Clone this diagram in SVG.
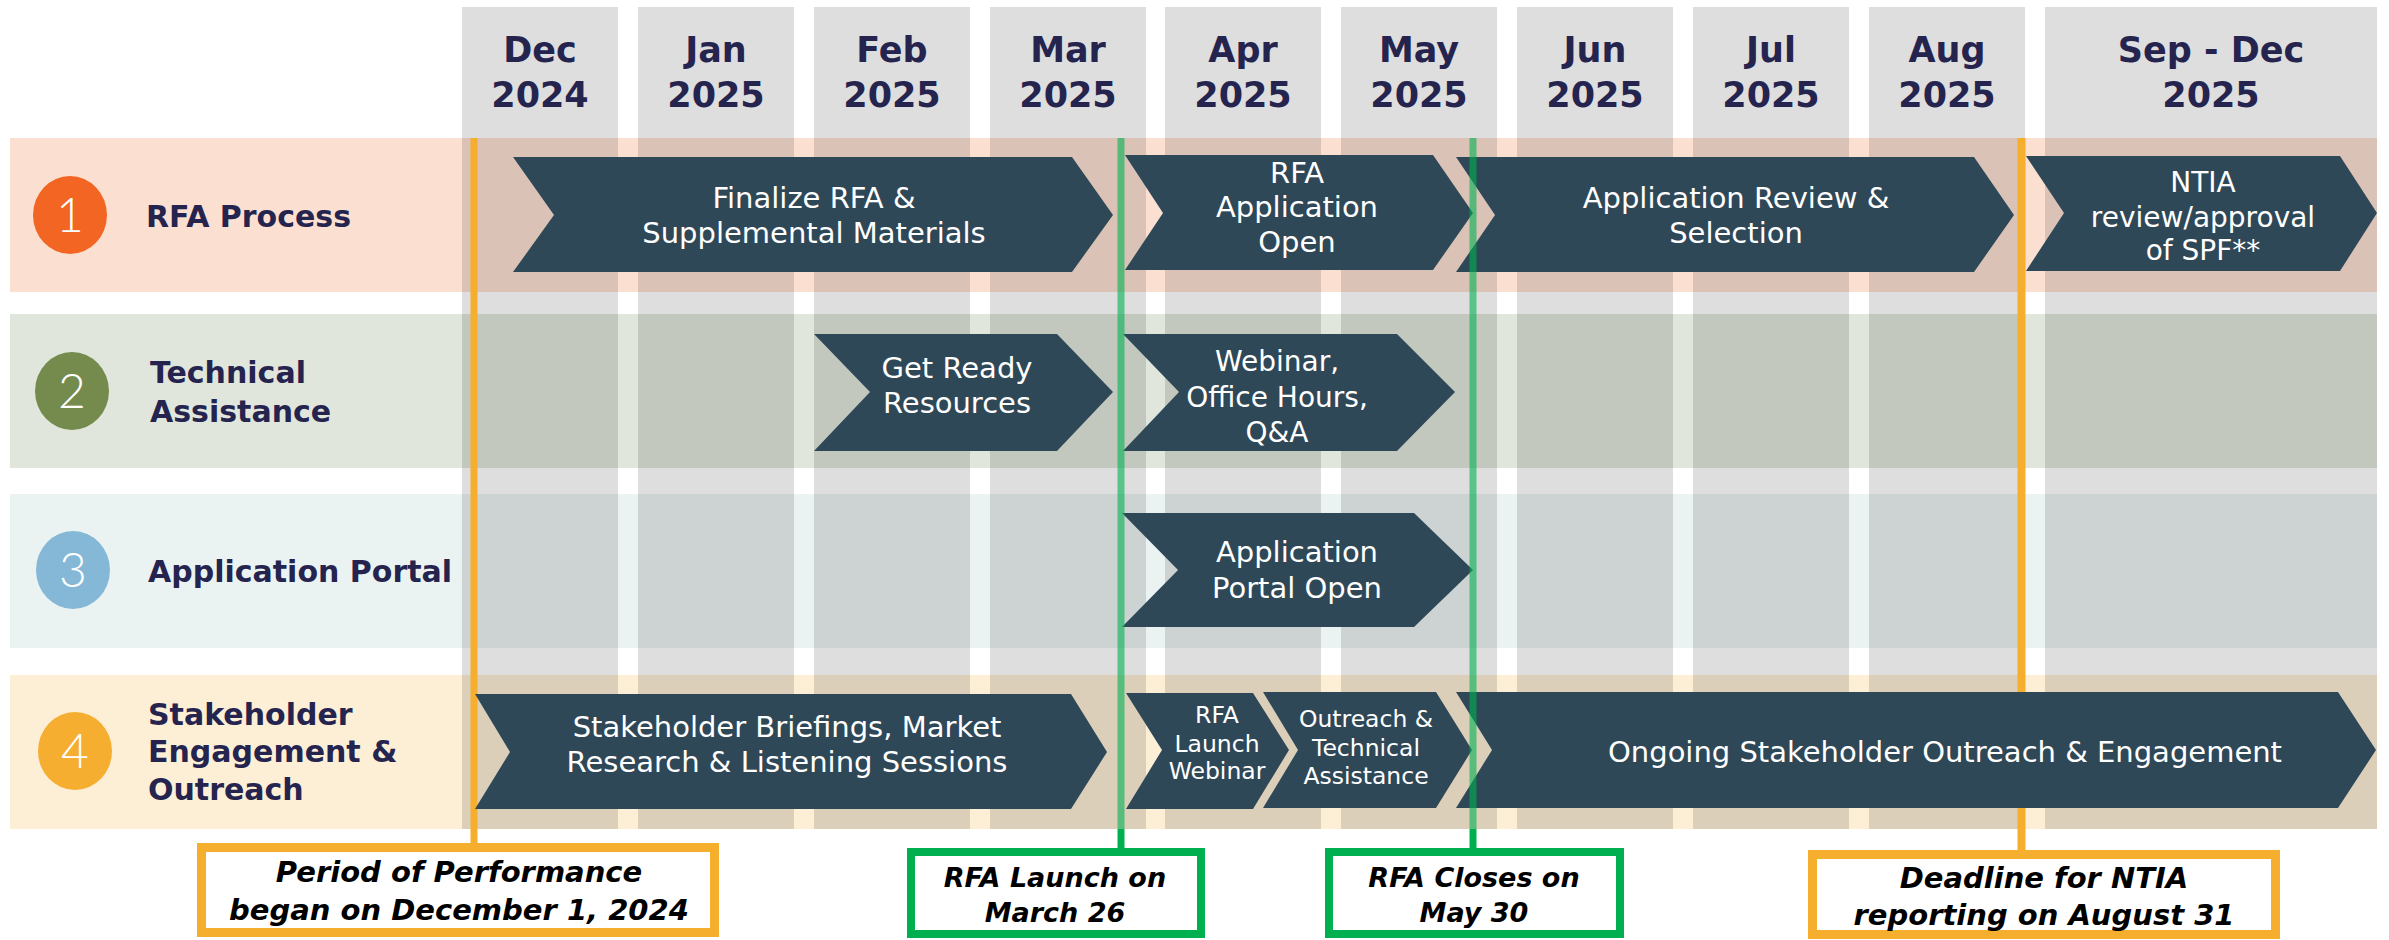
<svg xmlns="http://www.w3.org/2000/svg" width="2389" height="940" viewBox="0 0 2389 940">
<defs>
<style>
.hdr{font-family:"DejaVu Sans","Liberation Sans",sans-serif;font-weight:bold;font-size:35px;fill:#25244f;text-anchor:middle}
.lbl{font-family:"DejaVu Sans","Liberation Sans",sans-serif;font-weight:bold;font-size:30px;fill:#25244f}
.num{font-family:"Lato","DejaVu Sans",sans-serif;font-weight:300;font-size:48px;fill:#ffffff;text-anchor:middle}
.chev{fill:#2f4858}
.ct{font-family:"DejaVu Sans","Liberation Sans",sans-serif;font-size:29px;fill:#ffffff;text-anchor:middle}
.cs{font-family:"DejaVu Sans","Liberation Sans",sans-serif;font-size:23.5px;fill:#ffffff;text-anchor:middle}
.col{fill:#000000;fill-opacity:0.13}
.co{font-family:"DejaVu Sans","Liberation Sans",sans-serif;font-weight:bold;font-style:italic;fill:#000000;text-anchor:middle}
.ob{fill:#ffffff;stroke:#f6ae2e;stroke-width:9}
.gb{fill:#ffffff;stroke:#00b050;stroke-width:8}
</style>
</defs>
<rect x="0" y="0" width="2389" height="940" fill="#ffffff"/>

<g id="bands">
<rect x="10" y="138" width="2367" height="154" fill="#fbdfd1"/>
<rect x="10" y="314" width="2367" height="154" fill="#e1e6dc"/>
<rect x="10" y="494" width="2367" height="154" fill="#ebf3f2"/>
<rect x="10" y="675" width="2367" height="154" fill="#fdeed6"/>
</g>

<g id="columns">
<rect class="col" x="462" y="7" width="156" height="822"/>
<rect class="col" x="638" y="7" width="156" height="822"/>
<rect class="col" x="814" y="7" width="156" height="822"/>
<rect class="col" x="990" y="7" width="156" height="822"/>
<rect class="col" x="1165" y="7" width="156" height="822"/>
<rect class="col" x="1341" y="7" width="156" height="822"/>
<rect class="col" x="1517" y="7" width="156" height="822"/>
<rect class="col" x="1693" y="7" width="156" height="822"/>
<rect class="col" x="1869" y="7" width="156" height="822"/>
<rect class="col" x="2045" y="7" width="332" height="822"/>
<text class="hdr" x="540" y="62">Dec</text><text class="hdr" x="540" y="107">2024</text>
<text class="hdr" x="716" y="62">Jan</text><text class="hdr" x="716" y="107">2025</text>
<text class="hdr" x="892" y="62">Feb</text><text class="hdr" x="892" y="107">2025</text>
<text class="hdr" x="1068" y="62">Mar</text><text class="hdr" x="1068" y="107">2025</text>
<text class="hdr" x="1243" y="62">Apr</text><text class="hdr" x="1243" y="107">2025</text>
<text class="hdr" x="1419" y="62">May</text><text class="hdr" x="1419" y="107">2025</text>
<text class="hdr" x="1595" y="62">Jun</text><text class="hdr" x="1595" y="107">2025</text>
<text class="hdr" x="1771" y="62">Jul</text><text class="hdr" x="1771" y="107">2025</text>
<text class="hdr" x="1947" y="62">Aug</text><text class="hdr" x="1947" y="107">2025</text>
<text class="hdr" x="2211" y="62">Sep - Dec</text><text class="hdr" x="2211" y="107">2025</text>
</g>

<g id="row-labels">
<g id="label-1">
<ellipse cx="70" cy="215" rx="37" ry="39" fill="#f26522"/>
<text class="num" x="70" y="232">1</text>
<text class="lbl" x="146" y="227">RFA Process</text>
</g>
<g id="label-2">
<ellipse cx="72" cy="391" rx="37" ry="39" fill="#758b4d"/>
<text class="num" x="72" y="408">2</text>
<text class="lbl" x="150" y="383">Technical</text>
<text class="lbl" x="150" y="422">Assistance</text>
</g>
<g id="label-3">
<ellipse cx="73" cy="570" rx="37" ry="39" fill="#85b8d6"/>
<text class="num" x="73" y="587">3</text>
<text class="lbl" x="148" y="582">Application Portal</text>
</g>
<g id="label-4">
<ellipse cx="75" cy="751" rx="37" ry="39" fill="#f5ae2f"/>
<text class="num" x="75" y="768">4</text>
<text class="lbl" x="148" y="725">Stakeholder</text>
<text class="lbl" x="148" y="762">Engagement &amp;</text>
<text class="lbl" x="148" y="800">Outreach</text>
</g>
</g>

<g id="connectors-behind">
<line x1="474" y1="138" x2="474" y2="845" stroke="#f6ae2e" stroke-width="7"/>
<line x1="2021.5" y1="138" x2="2021.5" y2="852" stroke="#f6ae2e" stroke-width="8"/>
</g>

<g id="chevron-finalize">
<polygon class="chev" points="513,157 1072,157 1113,215 1072,272 513,272 554,215"/>
<text class="ct" x="814" y="208">Finalize RFA &amp;</text>
<text class="ct" x="814" y="243">Supplemental Materials</text>
</g>
<g id="chevron-rfa-open">
<polygon class="chev" points="1125,155 1433,155 1473,213 1433,270 1125,270 1163,213"/>
<text class="ct" x="1297" y="183">RFA</text>
<text class="ct" x="1297" y="217">Application</text>
<text class="ct" x="1297" y="252">Open</text>
</g>
<g id="chevron-review">
<polygon class="chev" points="1456,157 1974,157 2014,215 1974,272 1456,272 1495,215"/>
<text class="ct" x="1736" y="208">Application Review &amp;</text>
<text class="ct" x="1736" y="243">Selection</text>
</g>
<g id="chevron-ntia">
<polygon class="chev" points="2026,156 2340,156 2377,213 2340,271 2026,271 2064,213"/>
<text class="ct" x="2203" y="192" style="font-size:28px">NTIA</text>
<text class="ct" x="2203" y="227" style="font-size:28px">review/approval</text>
<text class="ct" x="2203" y="260" style="font-size:28px">of SPF**</text>
</g>
<g id="chevron-getready">
<polygon class="chev" points="814,334 1057,334 1113,392 1057,451 814,451 870,392"/>
<text class="ct" x="957" y="378">Get Ready</text>
<text class="ct" x="957" y="413">Resources</text>
</g>
<g id="chevron-webinar">
<polygon class="chev" points="1123,334 1397,334 1455,392 1397,451 1123,451 1179,392"/>
<text class="ct" x="1277" y="371" style="font-size:28px">Webinar,</text>
<text class="ct" x="1277" y="407" style="font-size:28px">Office Hours,</text>
<text class="ct" x="1277" y="442" style="font-size:28px">Q&amp;A</text>
</g>
<g id="chevron-portal">
<polygon class="chev" points="1122,513 1414,513 1473,570 1414,627 1122,627 1178,570"/>
<text class="ct" x="1297" y="562">Application</text>
<text class="ct" x="1297" y="598">Portal Open</text>
</g>
<g id="chevron-briefings">
<polygon class="chev" points="475,694 1071,694 1107,752 1071,809 475,809 510,752"/>
<text class="ct" x="787" y="737">Stakeholder Briefings, Market</text>
<text class="ct" x="787" y="772">Research &amp; Listening Sessions</text>
</g>
<g id="chevron-launch-webinar">
<polygon class="chev" points="1126,693 1253,693 1289,750 1253,809 1126,809 1162,750"/>
<text class="cs" x="1217" y="723">RFA</text>
<text class="cs" x="1217" y="752">Launch</text>
<text class="cs" x="1217" y="779">Webinar</text>
</g>
<g id="chevron-outreach-ta">
<polygon class="chev" points="1263,692 1436,692 1472,750 1436,808 1263,808 1298,750"/>
<text class="cs" x="1366" y="727">Outreach &amp;</text>
<text class="cs" x="1366" y="756">Technical</text>
<text class="cs" x="1366" y="784">Assistance</text>
</g>
<g id="chevron-ongoing">
<polygon class="chev" points="1456,692 2338,692 2376,750 2338,808 1456,808 1492,750"/>
<text class="ct" x="1945" y="762">Ongoing Stakeholder Outreach &amp; Engagement</text>
</g>

<g id="connectors">
<line x1="1121" y1="138" x2="1121" y2="829" stroke="#00b050" stroke-width="7" stroke-opacity="0.6"/>
<line x1="1121" y1="829" x2="1121" y2="852" stroke="#00b050" stroke-width="7"/>
<line x1="1473" y1="138" x2="1473" y2="829" stroke="#00b050" stroke-width="7" stroke-opacity="0.6"/>
<line x1="1473" y1="829" x2="1473" y2="852" stroke="#00b050" stroke-width="7"/>
</g>

<g id="callout-performance">
<rect class="ob" x="201.5" y="847.5" width="513" height="85"/>
<text class="co" x="459" y="882" font-size="29">Period of Performance</text>
<text class="co" x="459" y="920" font-size="29">began on December 1, 2024</text>
</g>
<g id="callout-launch">
<rect class="gb" x="911" y="852" width="290" height="82"/>
<text class="co" x="1055" y="887" font-size="27">RFA Launch on</text>
<text class="co" x="1055" y="922" font-size="27">March 26</text>
</g>
<g id="callout-closes">
<rect class="gb" x="1329" y="852" width="291" height="82"/>
<text class="co" x="1474" y="887" font-size="27">RFA Closes on</text>
<text class="co" x="1474" y="922" font-size="27">May 30</text>
</g>
<g id="callout-deadline">
<rect class="ob" x="1812.5" y="854.5" width="463" height="80"/>
<text class="co" x="2044" y="888" font-size="29">Deadline for NTIA</text>
<text class="co" x="2044" y="925" font-size="29">reporting on August 31</text>
</g>
</svg>
